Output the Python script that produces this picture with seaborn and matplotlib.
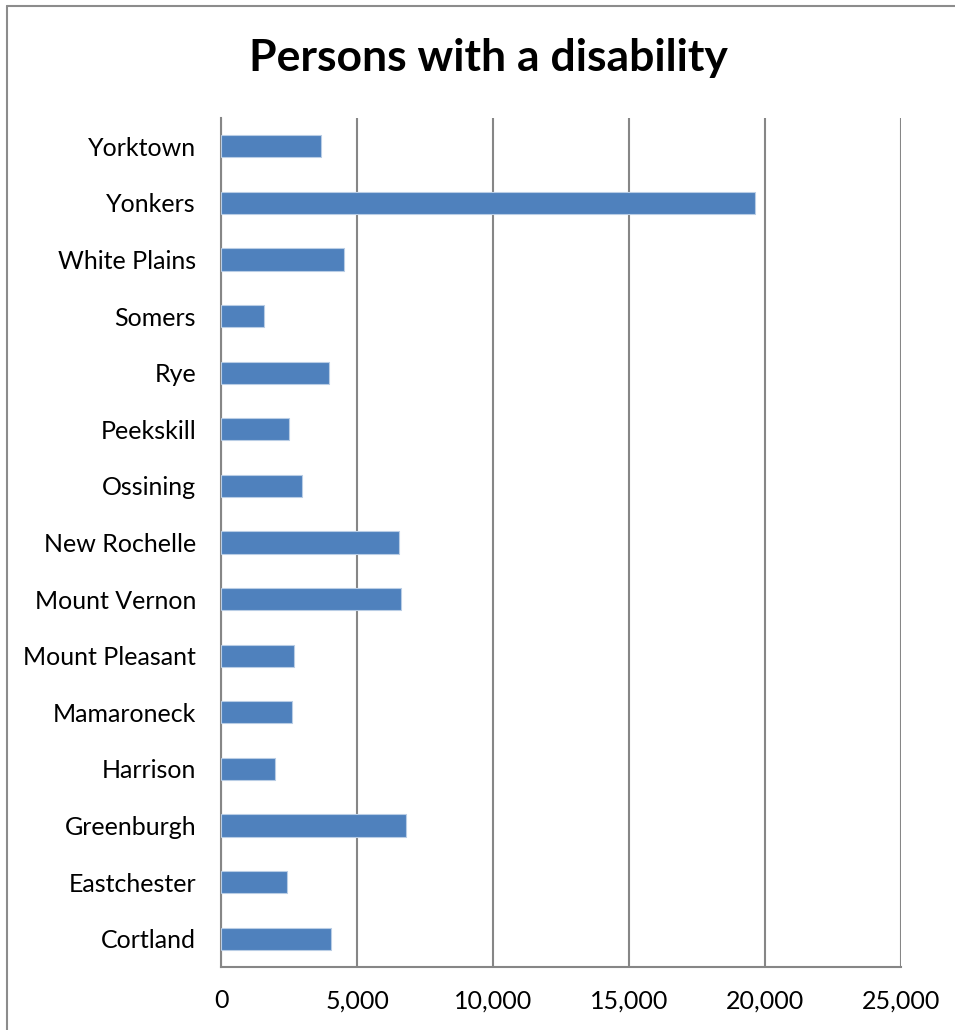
import matplotlib
matplotlib.use("Agg")
import matplotlib.pyplot as plt
import seaborn as sns
import pandas as pd
from matplotlib.lines import Line2D
from matplotlib.ticker import FuncFormatter

places = ["Yorktown", "Yonkers", "White Plains", "Somers", "Rye", "Peekskill",
          "Ossining", "New Rochelle", "Mount Vernon", "Mount Pleasant",
          "Mamaroneck", "Harrison", "Greenburgh", "Eastchester", "Cortland"]
persons = [3688, 19621, 4534, 1581, 3958, 2512, 2966, 6532, 6630, 2696,
           2598, 1998, 6814, 2426, 4056]
x_ticks = [0, 5000, 10000, 15000, 20000, 25000]

df = pd.DataFrame({"place": places, "persons": persons})

sns.set_theme(style="white")
plt.rcParams["font.family"] = ["Lato", "DejaVu Sans"]

W, H = 955, 1030
fig = plt.figure(figsize=(W / 100, H / 100), dpi=100)
ax = fig.add_axes([221 / W, 1 - 967 / H, (901 - 221) / W, (967 - 118) / H])

sns.barplot(data=df, x="persons", y="place", order=places, orient="h",
            color="#4F81BD", saturation=1, width=0.39, ax=ax,
            edgecolor="#B9CDE5", linewidth=0.8, zorder=3)

ax.set_xlim(0, 25000)
ax.set_ylim(len(places) - 0.5, -0.5)
ax.set_xticks(x_ticks)
ax.xaxis.set_major_formatter(FuncFormatter(lambda v, p: f"{int(v):,}"))
ax.grid(axis="x", color="#868686", linewidth=1.5, zorder=0)
ax.grid(axis="y", visible=False)
ax.set_axisbelow(True)
for s in ["top", "right"]:
    ax.spines[s].set_visible(False)
for s in ["left", "bottom"]:
    ax.spines[s].set_color("#868686")
    ax.spines[s].set_linewidth(1.5)
ax.tick_params(axis="both", length=0, labelsize=18, colors="black")
ax.tick_params(axis="y", pad=18)
ax.tick_params(axis="x", pad=16)
ax.set_xlabel("")
ax.set_ylabel("")

fig.text(488 / W, 1 - 58 / H, "Persons with a disability", ha="center",
         va="center", fontsize=32, fontweight="bold", color="black")

# outer chart border (top and left visible)
fig.add_artist(Line2D([7 / W, 1], [1 - 5.5 / H, 1 - 5.5 / H],
                      transform=fig.transFigure, color="#8C8C8C", linewidth=1.5))
fig.add_artist(Line2D([7 / W, 7 / W], [0, 1 - 5.5 / H],
                      transform=fig.transFigure, color="#8C8C8C", linewidth=1.5))

fig.savefig("out.png", dpi=100, facecolor="white")
